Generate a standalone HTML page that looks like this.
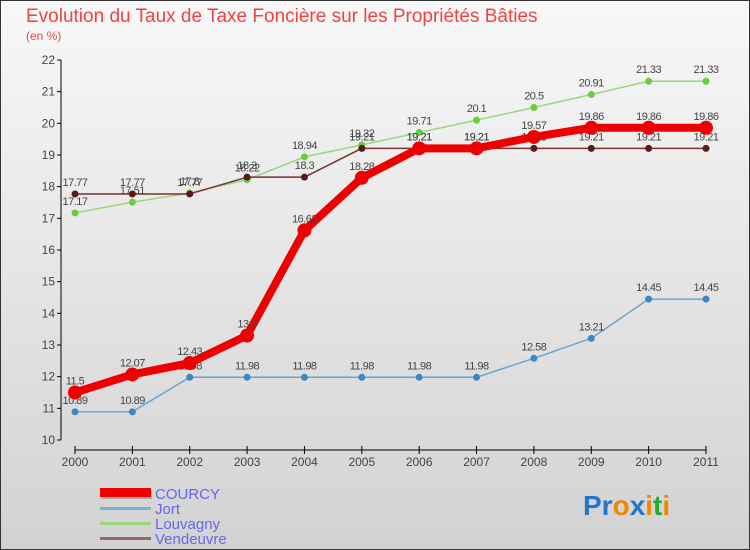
<!DOCTYPE html>
<html><head><meta charset="utf-8"><style>
body{margin:0;width:750px;height:550px;overflow:hidden;font-family:"Liberation Sans",sans-serif}
svg{display:block}
</style></head><body>
<svg id="chart" width="750" height="550" xmlns="http://www.w3.org/2000/svg">
<defs><linearGradient id="bg" x1="0" y1="0" x2="0" y2="1"><stop offset="0" stop-color="#f8f8f8"/><stop offset="1" stop-color="#d2d2d2"/></linearGradient></defs>
<rect x="0.5" y="0.5" width="749" height="549" fill="url(#bg)" stroke="#333"/>
<text x="26" y="22" font-size="19" fill="#ee4444">Evolution du Taux de Taxe Foncière sur les Propriétés Bâties</text>
<text x="26" y="40" font-size="12" fill="#ee4444">(en %)</text>
<g id="plot"></g>
<g>
<rect x="101" y="490" width="51" height="9" fill="#aaa"/><rect x="100" y="488" width="51" height="9" fill="#ee0000"/>
<text x="155" y="499" font-size="15" fill="#6666ee">COURCY</text>
<rect x="100" y="507" width="51" height="3" fill="#7ab0d0"/>
<text x="155" y="514" font-size="15" fill="#6666ee">Jort</text>
<rect x="100" y="522" width="51" height="3" fill="#9ad67a"/>
<text x="155" y="529" font-size="15" fill="#6666ee">Louvagny</text>
<rect x="100" y="537" width="51" height="3" fill="#9a6666"/>
<text x="155" y="544" font-size="15" fill="#6666ee">Vendeuvre</text>
</g>
<text x="583" y="515" font-size="28" font-weight="bold"><tspan fill="#2277cc">Pr</tspan><tspan fill="#ee8800">o</tspan><tspan fill="#2277cc">x</tspan><tspan fill="#ee8800">i</tspan><tspan fill="#22aa33">t</tspan><tspan fill="#ee8800">i</tspan></text>
</svg>
<script>
const years=["2000","2001","2002","2003","2004","2005","2006","2007","2008","2009","2010","2011"];
const yTicks=[10,11,12,13,14,15,16,17,18,19,20,21,22];
const courcy=[11.5,12.07,12.43,13.3,16.62,18.28,19.21,19.21,19.57,19.86,19.86,19.86];
const jort=[10.89,10.89,11.98,11.98,11.98,11.98,11.98,11.98,12.58,13.21,14.45,14.45];
const louvagny=[17.17,17.51,17.8,18.22,18.94,19.32,19.71,20.1,20.5,20.91,21.33,21.33];
const vendeuvre=[17.77,17.77,17.77,18.3,18.3,19.21,19.21,19.21,19.21,19.21,19.21,19.21];
const NS="http://www.w3.org/2000/svg";
const g=document.getElementById('plot');
function x(i){return 75+i*(706-75)/(years.length-1);}
function y(v){return 440-(v-10)*(380/12);}
function el(t,a){const e=document.createElementNS(NS,t);for(const k in a)e.setAttribute(k,a[k]);g.appendChild(e);return e;}
// axes
let ax=el('line',{x1:61,y1:y(22),x2:61,y2:y(10),stroke:'#000'});


yTicks.forEach(v=>{el('line',{x1:57,x2:61,y1:y(v),y2:y(v),stroke:'#000'});
 const t=el('text',{x:55,y:y(v)+4,'font-size':12,fill:'#444','text-anchor':'end'});t.textContent=v;
 
 });
let bx=el('line',{x1:75,y1:450,x2:706,y2:450,stroke:'#000'});


years.forEach((yr,i)=>{el('line',{x1:x(i),x2:x(i),y1:446,y2:454,stroke:'#000'});
 const t=el('text',{x:x(i),y:466,'font-size':12,fill:'#444','text-anchor':'middle'});t.textContent=yr;
 
 });
function series(name,data,color,w,r,dot){
 const pts=data.map((v,i)=>x(i)+','+y(v)).join(' ');
 const l=el('polyline',{points:pts,fill:'none',stroke:color,'stroke-width':w,'stroke-linejoin':'round'});
 
 
 data.forEach((v,i)=>{const c=el('circle',{cx:x(i),cy:y(v),r:r,fill:dot});
  
  
  const t=el('text',{x:x(i),y:y(v)-8,'font-size':11,fill:'#444','text-anchor':'middle','letter-spacing':'-0.5'});t.textContent=v;
  
  });
}
series('jort',jort,'#6aa6d0',1.5,3.5,'#3a88c8');
series('louvagny',louvagny,'#9ad67a',1.5,3.5,'#6ccc3c');
series('vendeuvre',vendeuvre,'#7a3333',1.5,3.5,'#5a1a1a');
series('courcy',courcy,'#ee0000',8,7,'#ee0000');
</script>
</body></html>
